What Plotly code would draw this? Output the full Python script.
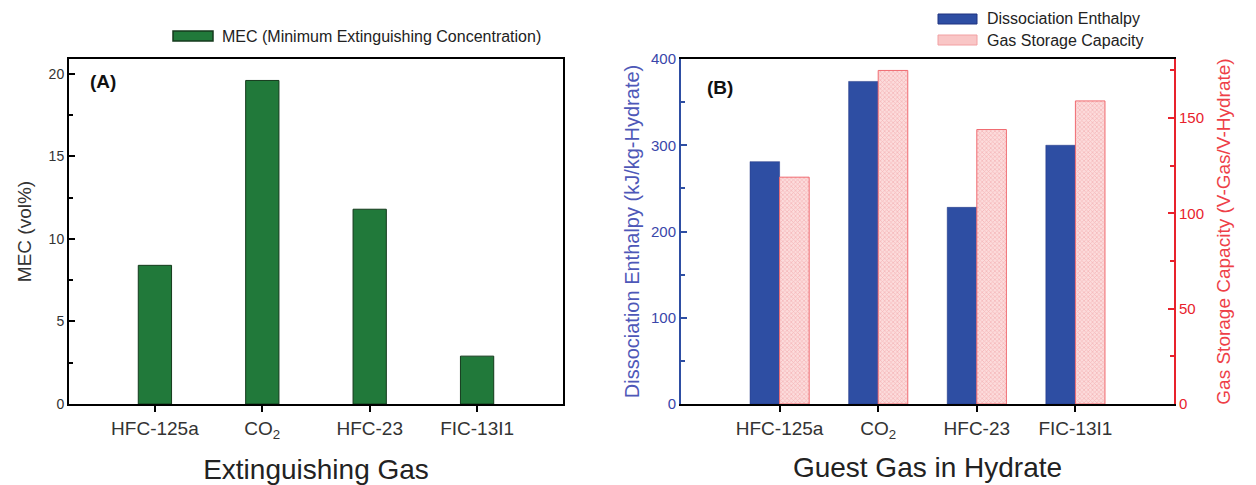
import plotly.graph_objects as go

# ---- data ----
gases_a = ["HFC-125a", "CO<sub>2</sub>", "HFC-23", "FIC-13I1"]
mec_vol_pct = [8.4, 19.6, 11.8, 2.9]
mec_label = "MEC (Minimum Extinguishing Concentration)"

gases_b = ["HFC-125a", "CO<sub>2</sub>", "HFC-23", "FIC-13I1"]
dissociation_enthalpy = [281, 374, 228, 300]      # kJ/kg-Hydrate
gas_storage_capacity = [119, 175, 144, 159]       # V-Gas/V-Hydrate
enthalpy_label = "Dissociation Enthalpy"
storage_label = "Gas Storage Capacity"

pos_a = list(range(1, len(gases_a) + 1))
pos_b = list(range(1, len(gases_b) + 1))

FONT = "Liberation Sans, Arial, sans-serif"
GREEN = "#21793a"
BLUE = "#2e4ea3"
BLUE_TXT = "#3a46aa"
RED = "#e8222c"

# page is offset by the default 8px body margin
OFF = 8
W, H = 1256 - OFF, 485 - OFF


def px_x(p):
    return (p - OFF) / W


def px_y(p):
    return 1 - (p - OFF) / H


fig = go.Figure()

fig.add_trace(go.Bar(
    x=pos_a, y=mec_vol_pct, name=mec_label, showlegend=False,
    width=0.31, marker=dict(color=GREEN, line=dict(color="#143a1c", width=1)),
    xaxis="x", yaxis="y",
))

fig.add_trace(go.Bar(
    x=pos_b, y=dissociation_enthalpy, name=enthalpy_label, showlegend=False,
    width=0.3, offset=-0.3,
    marker=dict(color=BLUE, line=dict(color="#1e3380", width=0.5)),
    xaxis="x2", yaxis="y3",
))
fig.add_trace(go.Bar(
    x=pos_b, y=gas_storage_capacity, name=storage_label, showlegend=False,
    width=0.3, offset=0.0,
    marker=dict(color="#fbd6d6", line=dict(color="#f06a70", width=1),
                pattern=dict(shape="x", fgcolor="#ef8c90", bgcolor="#fcdcdc",
                             size=3, solidity=0.4)),
    xaxis="x2", yaxis="y4",
))

tickfont_x = dict(family=FONT, size=19, color="#333333")

shapes = [
    # legend swatches
    dict(type="rect", xref="paper", yref="paper",
         x0=px_x(173), x1=px_x(213), y0=px_y(41), y1=px_y(31),
         fillcolor=GREEN, line=dict(color="#143a1c", width=1.5)),
    dict(type="rect", xref="paper", yref="paper",
         x0=px_x(938), x1=px_x(977), y0=px_y(24), y1=px_y(14),
         fillcolor=BLUE, line=dict(color="#1e3380", width=1)),
    dict(type="rect", xref="paper", yref="paper",
         x0=px_x(938), x1=px_x(977), y0=px_y(45), y1=px_y(35),
         fillcolor="#f9c6c6", line=dict(color="#f2a0a2", width=1)),
]

legend_font = dict(family=FONT, size=16, color="#222222")

annotations = [
    dict(text=mec_label, x=px_x(220), y=px_y(36), xref="paper", yref="paper",
         xanchor="left", yanchor="middle", showarrow=False, font=legend_font),
    dict(text=enthalpy_label, x=px_x(985), y=px_y(19), xref="paper", yref="paper",
         xanchor="left", yanchor="middle", showarrow=False, font=legend_font),
    dict(text=storage_label, x=px_x(985), y=px_y(40), xref="paper", yref="paper",
         xanchor="left", yanchor="middle", showarrow=False, font=legend_font),
    dict(text="<b>(A)</b>", x=px_x(88), y=px_y(81), xref="paper", yref="paper",
         xanchor="left", yanchor="middle", showarrow=False,
         font=dict(family=FONT, size=19, color="#111111")),
    dict(text="<b>(B)</b>", x=px_x(705), y=px_y(87), xref="paper", yref="paper",
         xanchor="left", yanchor="middle", showarrow=False,
         font=dict(family=FONT, size=19, color="#111111")),
]

fig.update_layout(
    width=W, height=H,
    margin=dict(l=0, r=0, t=0, b=0, autoexpand=False),
    paper_bgcolor="white", plot_bgcolor="white",
    font=dict(family=FONT, color="#333333"),
    showlegend=False,
    shapes=shapes,
    annotations=annotations,
    xaxis=dict(
        domain=[px_x(69), px_x(563)], range=[0.2, 4.8], automargin=False,
        tickvals=pos_a, ticktext=gases_a, tickfont=tickfont_x,
        ticks="outside", ticklen=6, tickwidth=2, tickcolor="black",
        showline=True, linecolor="black", linewidth=2, mirror=True,
        showgrid=False, zeroline=False, anchor="y",
        title=dict(text="Extinguishing Gas", font=dict(family=FONT, size=28, color="#222222"),
                   standoff=19),
    ),
    yaxis=dict(
        domain=[px_y(404), px_y(59)], range=[0, 20.9], automargin=False,
        tickvals=[0, 5, 10, 15, 20], tickfont=dict(family=FONT, size=14, color="#333333"),
        ticks="inside", ticklen=6, tickwidth=1.5, tickcolor="black",
        minor=dict(tickvals=[2.5, 7.5, 12.5, 17.5], ticks="inside", ticklen=4, tickcolor="black"),
        showline=True, linecolor="black", linewidth=2, mirror=True,
        showgrid=False, zeroline=False, anchor="x",
        title=dict(text="MEC (vol%)", font=dict(family=FONT, size=19, color="#333333"), standoff=12),
    ),
    xaxis2=dict(
        domain=[px_x(681), px_x(1174)], range=[0, 5], automargin=False,
        tickvals=pos_b, ticktext=gases_b, tickfont=tickfont_x,
        ticks="outside", ticklen=6, tickwidth=2, tickcolor="black",
        showline=True, linecolor="black", linewidth=2, mirror=True,
        showgrid=False, zeroline=False, anchor="y3",
        title=dict(text="Guest Gas in Hydrate", font=dict(family=FONT, size=28, color="#222222"),
                   standoff=17),
    ),
    yaxis3=dict(
        domain=[px_y(404), px_y(59)], range=[0, 400], automargin=False,
        tickvals=[0, 100, 200, 300, 400], tickfont=dict(family=FONT, size=15, color=BLUE_TXT),
        ticks="inside", ticklen=6, tickwidth=1.5, tickcolor=BLUE,
        minor=dict(tickvals=[50, 150, 250, 350], ticks="inside", ticklen=4, tickcolor=BLUE),
        showline=True, linecolor=BLUE, linewidth=2,
        showgrid=False, zeroline=False, anchor="x2",
        title=dict(text="Dissociation Enthalpy (kJ/kg-Hydrate)",
                   font=dict(family=FONT, size=20, color="#4e58b8"), standoff=6),
    ),
    yaxis4=dict(
        range=[0, 181], overlaying="y3", side="right", anchor="x2", automargin=False,
        tickvals=[0, 50, 100, 150], tickfont=dict(family=FONT, size=15, color=RED),
        ticks="inside", ticklen=6, tickwidth=1.5, tickcolor=RED,
        minor=dict(tickvals=[25, 75, 125, 175], ticks="inside", ticklen=4, tickcolor=RED),
        showline=True, linecolor=RED, linewidth=2,
        showgrid=False, zeroline=False,
        title=dict(text="Gas Storage Capacity (V-Gas/V-Hydrate)",
                   font=dict(family=FONT, size=19, color="#ee3f48"), standoff=14),
    ),
)

fig.write_html("out.html")
